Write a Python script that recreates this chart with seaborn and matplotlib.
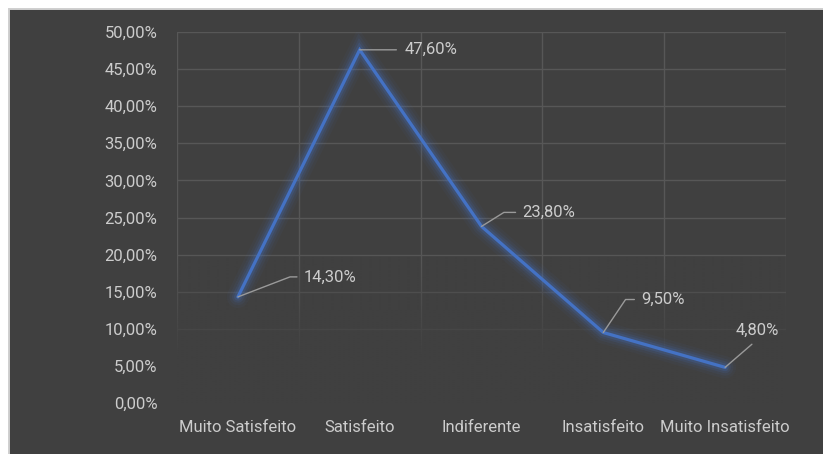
import numpy as np
import pandas as pd
import matplotlib
matplotlib.use("Agg")
import matplotlib.pyplot as plt
import matplotlib.patheffects as pe
from matplotlib.patches import Rectangle
from matplotlib.ticker import FuncFormatter
import seaborn as sns

# Survey results
categorias = ["Muito Satisfeito", "Satisfeito", "Indiferente", "Insatisfeito", "Muito Insatisfeito"]
percentuais = [14.30, 47.60, 23.80, 9.50, 4.80]
rotulos = ["14,30%", "47,60%", "23,80%", "9,50%", "4,80%"]

BG = "#404040"
TXT = "#cccccc"
GRID = "#575757"
LINE = "#4472C4"

sns.set_theme(style="dark")
plt.rcParams["font.family"] = ["Roboto", "DejaVu Sans"]

W, H = 823, 454
fig = plt.figure(figsize=(W / 100, H / 100), dpi=100, facecolor="white")
fig.patches.append(Rectangle((9 / W, -0.01), 1.0, (H - 9) / H + 0.01,
                             transform=fig.transFigure, facecolor=BG,
                             edgecolor="#cfcfcf", linewidth=1.4, zorder=-10))

ax = fig.add_axes([177 / W, 1 - 403 / H, (786 - 177) / W, (403 - 32) / H])
ax.set_facecolor(BG)
ax.patch.set_alpha(0)

df = pd.DataFrame({"categoria": categorias, "valor": np.array(percentuais) / 100})
sns.lineplot(data=df, x="categoria", y="valor", ax=ax, color=LINE, linewidth=2.3,
             sort=False, zorder=5)
line = ax.lines[0]
line.set_solid_joinstyle("miter")
line.set_path_effects([
    pe.Stroke(linewidth=16, foreground=LINE, alpha=0.05),
    pe.Stroke(linewidth=12, foreground=LINE, alpha=0.08),
    pe.Stroke(linewidth=8.5, foreground=LINE, alpha=0.12),
    pe.Stroke(linewidth=5.5, foreground=LINE, alpha=0.2),
    pe.Normal(),
])

ax.set_xlim(-0.5, len(categorias) - 0.5)
ax.set_ylim(0, 0.5)
ax.set_yticks(np.arange(0, 0.501, 0.05))
ax.yaxis.set_major_formatter(FuncFormatter(lambda v, _: f"{v * 100:.2f}%".replace(".", ",")))

# gridlines
for yv in np.arange(0.05, 0.501, 0.05):
    ax.axhline(yv, color=GRID, linewidth=1.0, zorder=1)
for xv in np.arange(-0.5, len(categorias), 1.0):
    ax.axvline(xv, color=GRID, linewidth=1.0, zorder=1)

# fade the lower part of the grid into the background
grad = np.zeros((200, 1, 4))
grad[..., :3] = matplotlib.colors.to_rgb(BG)
yy = np.linspace(0, 0.5, 200)
grad[:, 0, 3] = np.clip((0.2 - yy) / 0.14, 0, 1)
ax.imshow(grad, extent=(-0.5, len(categorias) - 0.5, 0, 0.5), origin="lower",
          aspect="auto", zorder=2, interpolation="bilinear")

ax.grid(False)
for s in ax.spines.values():
    s.set_visible(False)
ax.tick_params(axis="both", length=0, colors=TXT, labelsize=12)
ax.tick_params(axis="y", pad=14)
ax.tick_params(axis="x", pad=12)
ax.set_xlabel("")
ax.set_ylabel("")

# data labels with leader lines (offsets in pixels)
offsets = [(66, 20, 21), (45, 0, None), (41, 14, 32), (38, 33, 56), (None, None, None)]
lead_kw = dict(arrowstyle="-", color="#9a9a9a", linewidth=1.0, shrinkB=0)
for i, (val, txt, off) in enumerate(zip(percentuais, rotulos, offsets)):
    y = val / 100
    dx, dy, ang = off
    if dx is None:
        ax.annotate(txt, xy=(i, y), xytext=(32, 37), textcoords="offset pixels",
                    ha="center", va="center", color=TXT, fontsize=12, zorder=6,
                    arrowprops=dict(lead_kw, relpos=(0.55, 0.0), patchA=None,
                                    shrinkA=7, connectionstyle="arc3"))
    elif ang is None:
        ax.annotate(txt, xy=(i, y), xytext=(dx, dy), textcoords="offset pixels",
                    ha="left", va="center", color=TXT, fontsize=12, zorder=6,
                    arrowprops=dict(lead_kw, relpos=(0.0, 0.5), patchA=None,
                                    shrinkA=6, connectionstyle="arc3"))
    else:
        ax.annotate(txt, xy=(i, y), xytext=(dx, dy), textcoords="offset pixels",
                    ha="left", va="center", color=TXT, fontsize=12, zorder=6,
                    arrowprops=dict(lead_kw, relpos=(0.0, 0.5), patchA=None,
                                    shrinkA=5,
                                    connectionstyle=f"angle,angleA=0,angleB={ang},rad=0"))

fig.savefig("out.png", dpi=100, facecolor="white")
